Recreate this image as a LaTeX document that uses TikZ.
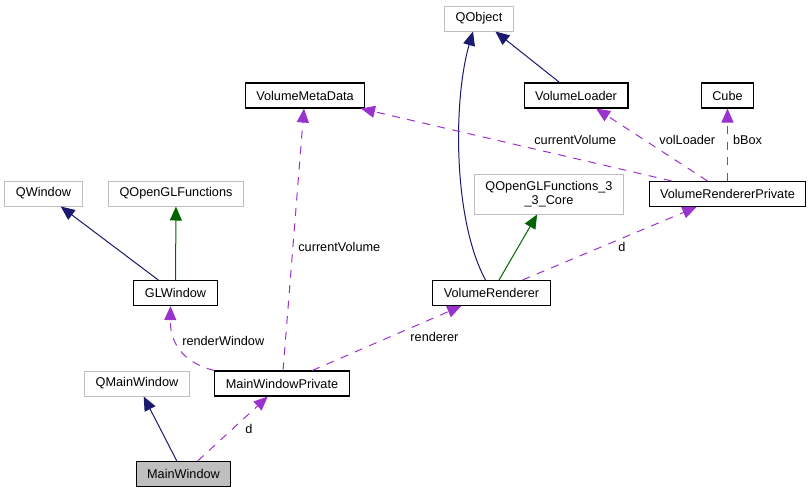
\documentclass[tikz,border=0pt]{standalone}
\usepackage{fontspec}
\setmainfont{Liberation Sans}
\usetikzlibrary{arrows.meta,positioning}
\definecolor{navyline}{HTML}{191970}
\definecolor{protgreen}{HTML}{006400}
\definecolor{usepurple}{HTML}{9A32CD}
\definecolor{extgray}{HTML}{BFBFBF}
\tikzset{cls/.style={rectangle,draw=black,line width=1.1pt,minimum height=25pt,inner xsep=11pt,inner ysep=2pt,font=\fontsize{12.7}{14.5}\selectfont}}
\tikzset{extcls/.style={cls,draw=extgray,line width=1pt}}
\tikzset{pubinh/.style={-{Triangle[length=14pt,width=12pt]},color=navyline,line width=1pt}}
\tikzset{protinh/.style={-{Triangle[length=14pt,width=12pt]},color=protgreen,line width=1pt}}
\tikzset{usedby/.style={-{Triangle[length=14pt,width=12pt]},color=usepurple,line width=1pt,dash pattern=on 8pt off 7.5pt}}
\tikzset{lbl/.style={inner sep=1pt,text=black,font=\fontsize{12.7}{14.5}\selectfont}}

\begin{document}
\begin{tikzpicture}[x=1pt,y=-1pt]
% \draw[help lines] (0,0) grid (812,493);
\useasboundingbox (0,0) rectangle (812,493);
\node (qobj) [extcls] at (479,18.5) {QObject};
\node (vmd) [cls] at (305,95.5) {VolumeMetaData};
\node (vl) [cls] at (576,95.5) {VolumeLoader};
\node (cube) [cls] at (727.5,95.5) {Cube};
\node (qwin) [extcls] at (43.5,193.5) {QWindow};
\node (qogl) [extcls] at (176,193.5) {QOpenGLFunctions};
\node (qogl33) [extcls,align=center,minimum height=40pt] at (549,194) {QOpenGLFunctions\_3\\\_3\_Core};
\node (vrp) [cls] at (727.5,194) {VolumeRendererPrivate};
\node (glw) [cls] at (175.5,293) {GLWindow};
\node (vr) [cls] at (491.5,293) {VolumeRenderer};
\node (qmw) [extcls] at (137,383.5) {QMainWindow};
\node (mwp) [cls] at (282,383.5) {MainWindowPrivate};
\node (mw) [cls,fill=extgray] at (183.5,474) {MainWindow};
%
\path[pubinh] (mw) edge (qmw);
\path[usedby] (mw) edge node[lbl,pos=0.5,anchor=west,xshift=11pt] {d} (mwp);
\draw[usedby] (mwp.north west) .. controls (180,362) and (170,340) .. ([xshift=-5pt]glw.south) node[lbl,pos=0.6,anchor=west,xshift=5pt] {renderWindow};
\path[usedby] (mwp) edge node[lbl,pos=0.47,anchor=west,xshift=4pt] {currentVolume} (vmd);
\path[usedby] (mwp) edge node[lbl,pos=0.8,anchor=north,xshift=3pt,yshift=-12pt] {renderer} (vr);
\path[pubinh] (glw) edge (qwin);
\path[protinh] (glw) edge (qogl);
\draw[pubinh] ([xshift=-6pt]vr.north) .. controls (453,220) and (453,100) .. ([xshift=-6pt]qobj.south);
\path[protinh] (vr) edge (qogl33);
\path[usedby] (vr) edge node[lbl,pos=0.45,anchor=west,xshift=16pt] {d} (vrp);
\path[usedby] (vrp) edge node[lbl,pos=0.31,anchor=south,yshift=12pt] {currentVolume} (vmd);
\path[usedby] (vrp) edge node[lbl,pos=0.57,anchor=west,xshift=14pt] {volLoader} (vl);
\path[usedby] (vrp) edge node[lbl,pos=0.57,anchor=west,xshift=4pt] {bBox} (cube);
\path[pubinh] (vl) edge (qobj);
\end{tikzpicture}
\end{document}
